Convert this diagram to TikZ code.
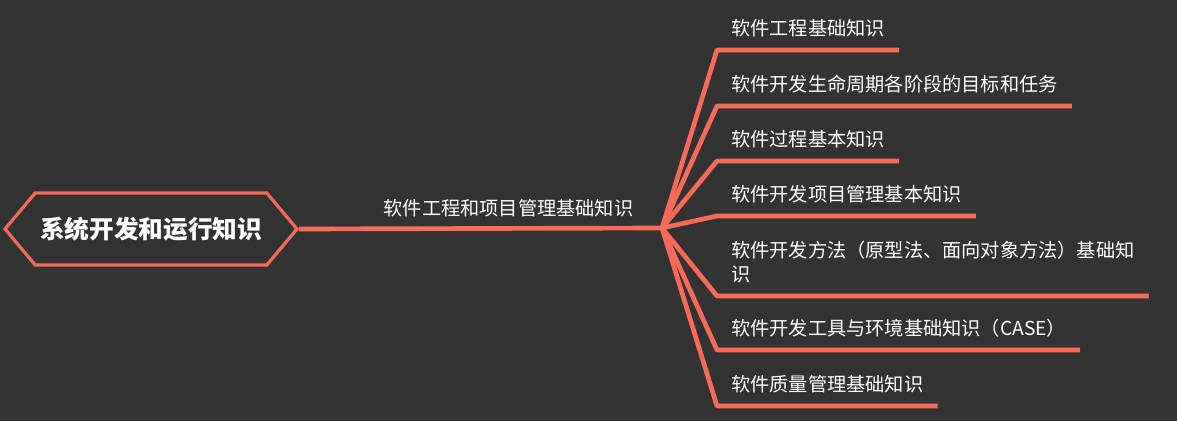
\documentclass[tikz,border=0pt]{standalone}
\usepackage{fontspec}
\setmainfont{Noto Sans CJK SC}
\usetikzlibrary{shapes.symbols}
\definecolor{bgcol}{RGB}{51,51,51}
\definecolor{branchcol}{RGB}{250,106,88}
\tikzstyle{root}=[signal, signal to=west and east, signal pointer angle=100, draw=branchcol, line width=2.4pt, minimum width=219pt, minimum height=54pt, inner sep=0pt, text=white, font=\fontsize{18.5}{22}\selectfont\bfseries]
\tikzstyle{leaf}=[anchor=south west, inner xsep=10.5pt, inner ysep=11pt, text depth=0pt, text=white, align=left, font=\fontsize{14.4}{18}\selectfont]
\tikzstyle{annot}=[anchor=base, yshift=9.5pt, inner sep=0pt, text=white, font=\fontsize{14.4}{18}\selectfont]
\tikzstyle{branch}=[draw=branchcol, line width=3.5pt, line join=round]
\begin{document}
\begin{tikzpicture}[x=0.75pt, y=-0.75pt]
	\fill[bgcol] (0,0) rectangle (1177,421);
	\useasboundingbox (0,0) rectangle (1177,421);

	\node[root] (sys) at (151,229) {系统开发和运行知识};
	\coordinate (hub) at (662,228);

	\node[leaf] (k1) at (717,50) {软件工程基础知识};
	\node[leaf] (k2) at (717,106) {软件开发生命周期各阶段的目标和任务};
	\node[leaf] (k3) at (717,161) {软件过程基本知识};
	\node[leaf] (k4) at (717,216) {软件开发项目管理基本知识};
	\node[leaf] (k5) at (717,296) {软件开发方法（原型法、面向对象方法）基础知\\识};
	\node[leaf] (k6) at (717,350) {软件开发工具与环境基础知识（CASE）};
	\node[leaf] (k7) at (717,406) {软件质量管理基础知识};

	\draw[branch] (sys.east) -- node[annot, pos=0.577] (se) {软件工程和项目管理基础知识} (hub);
	\foreach \k in {k1,k2,k3,k4,k5,k6,k7}
		\draw[branch] (hub) -- (\k.south west) -- (\k.south east);

\end{tikzpicture}
\end{document}
